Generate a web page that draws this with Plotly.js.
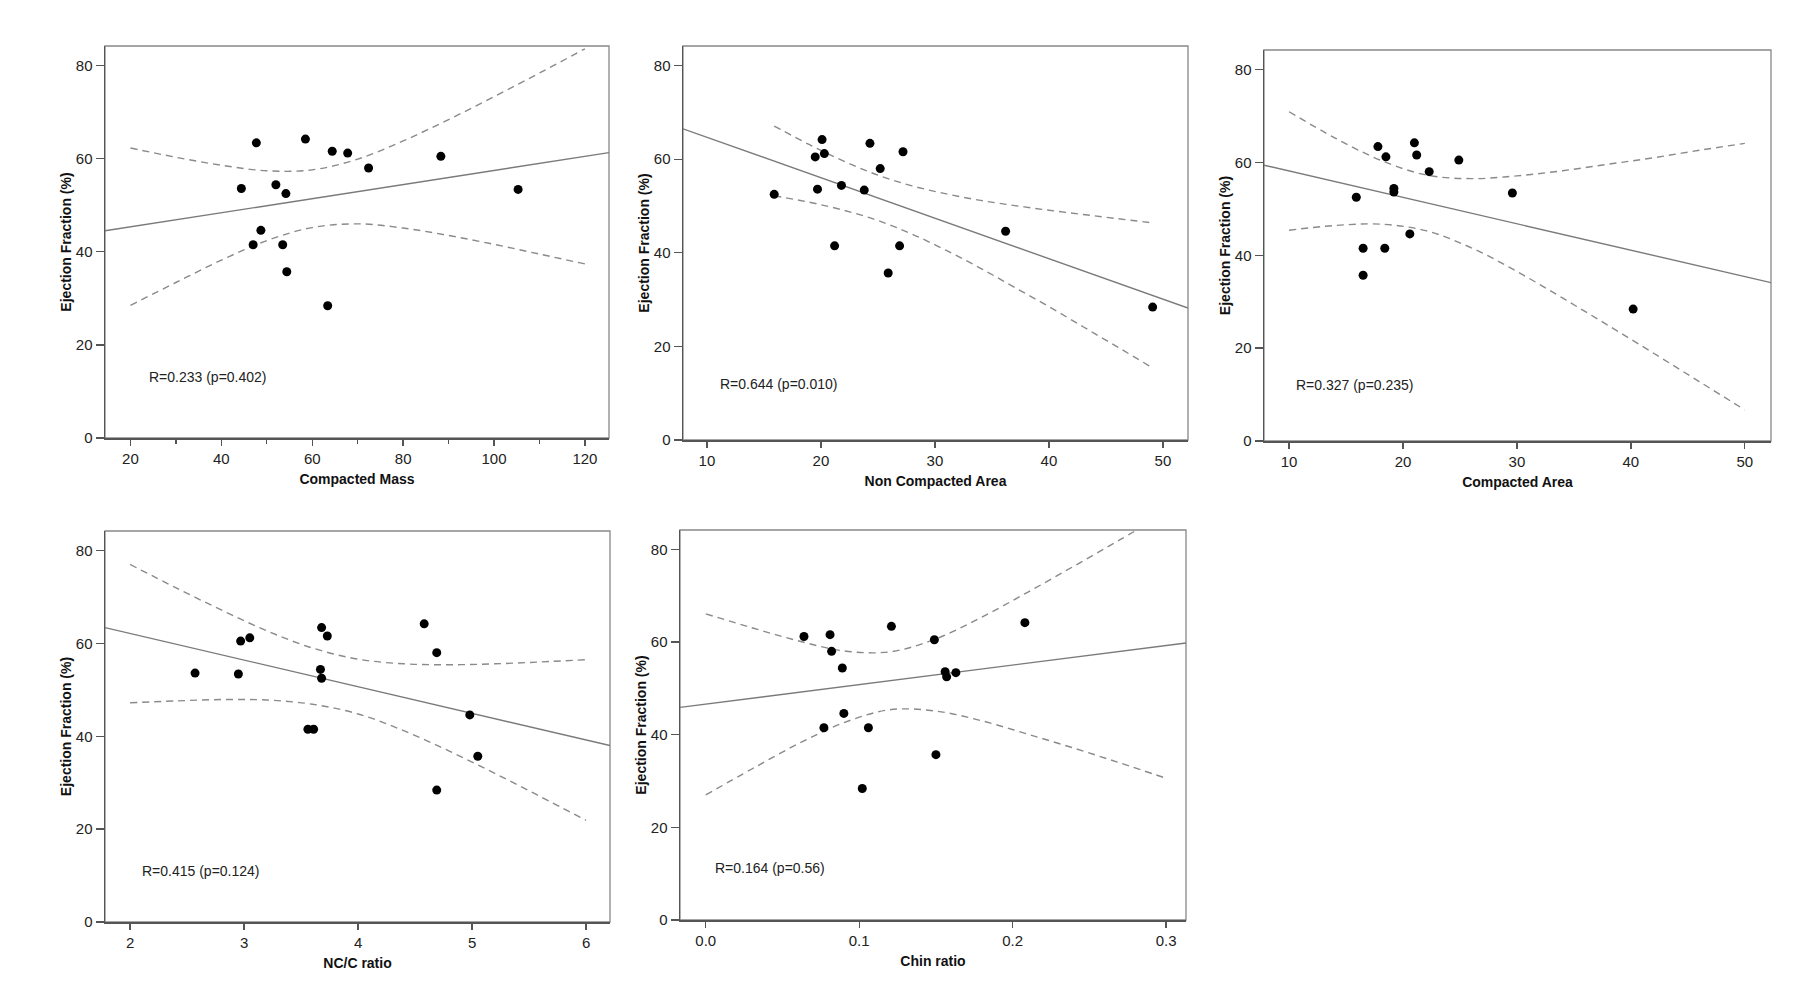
<!DOCTYPE html>
<html>
<head>
<meta charset="utf-8">
<script src="https://cdn.plot.ly/plotly-3.0.1.min.js"></script>
<style>
  body { margin: 0; background: #fff; }
  #chart { width: 1809px; height: 1008px; }
</style>
</head>
<body>
<div id="chart"></div>
<script>
// ejection fraction per patient, shared by all five panels
let ef = [64.2, 63.4, 61.6, 61.2, 60.5, 58.0, 54.4, 53.6, 53.4, 52.5, 44.6, 41.5, 41.5, 35.7, 28.4];

let compactedMass    = [58.5, 47.7, 64.4, 67.8, 88.3, 72.4, 52.0, 44.4, 105.3, 54.2, 48.7, 47.0, 53.5, 54.4, 63.4];
let nonCompactedArea = [20.1, 24.3, 27.2, 20.3, 19.5, 25.2, 21.8, 19.7, 23.8, 15.9, 36.2, 21.2, 26.9, 25.9, 49.1];
let compactedArea    = [21.0, 17.8, 21.2, 18.5, 24.9, 22.3, 19.2, 19.2, 29.6, 15.9, 20.6, 16.5, 18.4, 16.5, 40.2];
let ncRatio          = [4.58, 3.68, 3.73, 3.05, 2.97, 4.69, 3.67, 2.57, 2.95, 3.68, 4.98, 3.56, 3.61, 5.05, 4.69];
let chinRatio        = [0.208, 0.121, 0.081, 0.064, 0.149, 0.082, 0.089, 0.156, 0.163, 0.157, 0.090, 0.077, 0.106, 0.150, 0.102];

let xTitles = ['Compacted Mass', 'Non Compacted Area', 'Compacted Area', 'NC/C ratio', 'Chin ratio'];
let rLabels = ['R=0.233 (p=0.402)', 'R=0.644 (p=0.010)', 'R=0.327 (p=0.235)', 'R=0.415 (p=0.124)', 'R=0.164 (p=0.56)'];

// regression line: value at the left and right edge of each frame
let fitLeft  = [44.5, 66.5, 59.4, 63.4, 45.9];
let fitRight = [61.3, 28.2, 34.1, 38.0, 59.8];

// 95% band of the mean (dashed)
let bandX1  = [20, 30, 40, 50, 60, 70, 80, 90, 100, 110, 120];
let bandUp1 = [62.3, 60.3, 58.6, 57.4, 57.6, 59.9, 63.8, 68.4, 73.3, 78.4, 83.6];
let bandLo1 = [28.5, 33.4, 38.2, 42.4, 45.2, 46.0, 45.1, 43.5, 41.6, 39.5, 37.4];

let bandX2  = [15.9, 19, 22, 25, 28, 31, 34, 37, 40, 43, 46, 49.1];
let bandUp2 = [67.1, 63.1, 59.6, 56.6, 54.3, 52.6, 51.2, 50.1, 49.1, 48.2, 47.3, 46.4];
let bandLo2 = [52.2, 50.8, 49.1, 46.9, 44.0, 40.5, 36.7, 32.6, 28.5, 24.2, 19.9, 15.4];

let bandX3  = [10, 14, 18, 22, 26, 30, 34, 38, 42, 46, 50];
let bandUp3 = [70.9, 65.3, 60.5, 57.3, 56.5, 57.1, 58.2, 59.6, 61.0, 62.6, 64.1];
let bandLo3 = [45.4, 46.4, 46.7, 45.3, 41.6, 36.5, 30.8, 24.9, 18.9, 12.8, 6.7];

let bandX4  = [2, 2.4, 2.8, 3.2, 3.6, 4.0, 4.4, 4.8, 5.2, 5.6, 6];
let bandUp4 = [77.0, 72.0, 67.2, 62.7, 59.0, 56.6, 55.6, 55.4, 55.6, 56.0, 56.5];
let bandLo4 = [47.2, 47.6, 47.9, 47.8, 46.9, 44.8, 41.2, 36.8, 32.0, 27.0, 21.9];

let bandX5  = [0, 0.03, 0.06, 0.09, 0.12, 0.15, 0.18, 0.21, 0.24, 0.27, 0.3];
let bandUp5 = [66.1, 63.1, 60.3, 58.1, 57.9, 60.7, 65.4, 70.8, 76.4, 82.1, 87.9];
let bandLo5 = [27.0, 32.6, 38.0, 42.6, 45.4, 45.1, 43.0, 40.1, 37.1, 33.9, 30.6];

let panelX = [compactedMass, nonCompactedArea, compactedArea, ncRatio, chinRatio];
let bandX  = [bandX1, bandX2, bandX3, bandX4, bandX5];
let bandUp = [bandUp1, bandUp2, bandUp3, bandUp4, bandUp5];
let bandLo = [bandLo1, bandLo2, bandLo3, bandLo4, bandLo5];

// where each plot frame sits, in pixels of the 1809x1008 page
let frames = [
    { l: 105, r: 609, t: 46, b: 438, range: [14.4, 125.3], dtick: 20, minor: 10, fmt: 'd', lab: [23.7, 13.1] },
    { l: 683, r: 1188, t: 46, b: 440, range: [7.9, 52.2], dtick: 10, minor: 0, fmt: 'd', lab: [11.0, 11.9] },
    { l: 1264, r: 1771, t: 50, b: 441, range: [7.8, 52.3], dtick: 10, minor: 0, fmt: 'd', lab: [10.4, 12.1] },
    { l: 105, r: 610, t: 531, b: 922, range: [1.78, 6.21], dtick: 1, minor: 0, fmt: 'd', lab: [2.09, 11.0] },
    { l: 680, r: 1186, t: 530, b: 920, range: [-0.0168, 0.313], dtick: 0.1, minor: 0, fmt: '.1f', lab: [0.0047, 11.3] }
];

const W = 1809, H = 1008;
const FONT = 'Liberation Sans, Arial, sans-serif';
const GREY = '#8a8a8a';

let traces = [];
let layout = {
    width: W, height: H,
    margin: { l: 0, r: 0, t: 0, b: 0 },
    paper_bgcolor: '#fff', plot_bgcolor: '#fff',
    showlegend: false,
    annotations: [],
    shapes: []
};

frames.forEach((f, i) => {
    let k = i + 1;
    let xa = k == 1 ? 'x' : 'x' + k;
    let ya = k == 1 ? 'y' : 'y' + k;
    let dash = { color: GREY, width: 1.4, dash: '7px,5px', shape: 'spline' };

    traces.push({ x: bandX[i], y: bandUp[i], xaxis: xa, yaxis: ya, mode: 'lines', type: 'scatter', line: dash, hoverinfo: 'skip' });
    traces.push({ x: bandX[i], y: bandLo[i], xaxis: xa, yaxis: ya, mode: 'lines', type: 'scatter', line: dash, hoverinfo: 'skip' });
    traces.push({ x: f.range, y: [fitLeft[i], fitRight[i]], xaxis: xa, yaxis: ya, mode: 'lines', type: 'scatter',
        line: { color: '#7a7a7a', width: 1.4 }, hoverinfo: 'skip' });
    traces.push({ x: panelX[i], y: ef, xaxis: xa, yaxis: ya, mode: 'markers', type: 'scatter',
        marker: { color: '#000', size: 9 } });

    let axisCommon = {
        showline: true, linecolor: '#555', linewidth: 1.5,
        ticks: 'outside', tickcolor: '#555', tickwidth: 1.3,
        showgrid: false, zeroline: false,
        tickfont: { family: FONT, size: 15, color: '#222' }
    };
    let xaxis = Object.assign({}, axisCommon, {
        domain: [f.l / W, f.r / W], anchor: ya, range: f.range,
        dtick: f.dtick, tick0: 0, ticklen: 6, tickformat: f.fmt,
        title: { text: xTitles[i], standoff: 8, font: { family: FONT, size: 14, weight: 'bold', color: '#111' } }
    });
    if (f.minor) xaxis.minor = { dtick: f.minor, tick0: 0, ticks: 'outside', ticklen: 4, tickcolor: '#555', tickwidth: 1.2 };
    let yaxis = Object.assign({}, axisCommon, {
        domain: [1 - f.b / H, 1 - f.t / H], anchor: xa, range: [0, 84.2],
        tickvals: [0, 20, 40, 60, 80], ticklen: 8,
        title: { text: 'Ejection Fraction (%)', standoff: 1, font: { family: FONT, size: 14, weight: 'bold', color: '#111' } }
    });
    layout['xaxis' + (k == 1 ? '' : k)] = xaxis;
    layout['yaxis' + (k == 1 ? '' : k)] = yaxis;

    // lighter top and right sides of the frame
    layout.shapes.push({
        type: 'rect', xref: xa + ' domain', yref: ya + ' domain', x0: 0, x1: 1, y0: 0, y1: 1,
        line: { color: '#888', width: 1.3 }, layer: 'below'
    });

    layout.annotations.push({
        xref: xa, yref: ya, x: f.lab[0], y: f.lab[1], text: rLabels[i],
        xanchor: 'left', yanchor: 'middle', showarrow: false,
        font: { family: FONT, size: 14, color: '#222' }
    });
});

Plotly.newPlot('chart', traces, layout, { staticPlot: true });
</script>
</body>
</html>
